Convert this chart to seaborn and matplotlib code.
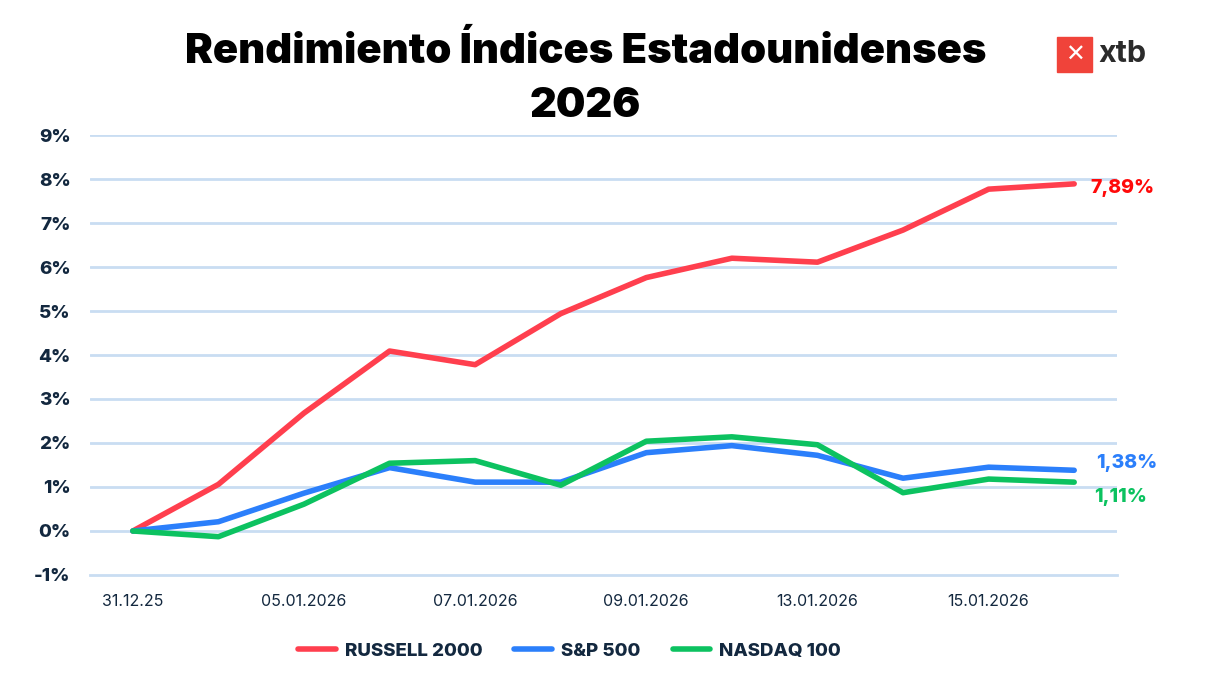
import numpy as np
import pandas as pd
import matplotlib.pyplot as plt
import matplotlib.patches as mpatches
import seaborn as sns

# Data (% return since 31.12.25)
dates = ["31.12.25", "02.01.2026", "05.01.2026", "06.01.2026", "07.01.2026",
         "08.01.2026", "09.01.2026", "12.01.2026", "13.01.2026", "14.01.2026",
         "15.01.2026", "16.01.2026"]
russell = [0.0, 1.06, 2.68, 4.09, 3.78, 4.94, 5.76, 6.20, 6.11, 6.84, 7.77, 7.89]
sp500 = [0.0, 0.21, 0.86, 1.44, 1.11, 1.11, 1.78, 1.94, 1.72, 1.20, 1.45, 1.38]
nasdaq = [0.0, -0.13, 0.61, 1.54, 1.60, 1.04, 2.04, 2.14, 1.96, 0.87, 1.18, 1.11]
series_names = ["RUSSELL 2000", "S&P 500", "NASDAQ 100"]
colors = ["#ff3f4e", "#2b7ffb", "#0cc260"]
label_colors = ["#ff0a0a", "#2b7ffb", "#0cc260"]
yticks = list(range(-1, 10))

df = pd.DataFrame({"idx": np.arange(len(dates)), "date": dates,
                   series_names[0]: russell, series_names[1]: sp500,
                   series_names[2]: nasdaq})
long_df = df.melt(id_vars=["idx", "date"], var_name="indice", value_name="ret")

sns.set_style("white")
plt.rcParams["font.family"] = ["Inter", "DejaVu Sans"]

navy = "#13283f"
grid_c = "#c9ddf2"

fig = plt.figure(figsize=(12.12, 6.9), dpi=100)
ax = fig.add_axes([0.0743, 0.1667, 0.8473, 0.6376])

for y in yticks[1:]:
    ax.axhline(y, color=grid_c, lw=2, zorder=0)

sns.lineplot(data=long_df, x="idx", y="ret", hue="indice", hue_order=series_names,
             palette=colors, linewidth=4, ax=ax, legend=False, zorder=3,
             solid_capstyle="round", solid_joinstyle="round")

ax.set_xlim(-0.5, len(dates) - 0.5)
ax.set_ylim(-1, 9)
ax.set_yticks(yticks)
ax.set_yticklabels([f"{v}%" for v in yticks], fontsize=13.5, fontweight="heavy", color=navy)
ax.set_xticks(np.arange(0, len(dates), 2))
ax.set_xticklabels(dates[::2], fontsize=11.5, color=navy)
ax.set_xticks(np.arange(-0.5, len(dates), 2), minor=True)
ax.tick_params(axis="y", length=0, pad=14)
ax.tick_params(axis="x", which="major", length=0, pad=14)
ax.tick_params(axis="x", which="minor", length=6, width=2, color=grid_c, direction="out")
ax.set_xlabel("")
ax.set_ylabel("")
for s in ["top", "right", "left"]:
    ax.spines[s].set_visible(False)
ax.spines["bottom"].set_color(grid_c)
ax.spines["bottom"].set_linewidth(2)

# end labels
last = len(dates) - 1
offsets = [(12, -3), (16, 5), (14, -11)]
for vals, col, off in zip([russell, sp500, nasdaq], label_colors, offsets):
    ax.annotate(f"{vals[-1]:.2f}%".replace(".", ","), xy=(last, vals[-1]),
                xytext=off, textcoords="offset points", ha="left", va="center",
                fontsize=14, fontweight="heavy", color=col, annotation_clip=False)

# legend
handles = [plt.Line2D([], [], color=c, lw=4, solid_capstyle="round") for c in colors]
leg = fig.legend(handles, series_names, loc="center", bbox_to_anchor=(0.47, 0.056),
                 ncol=3, frameon=False, handlelength=2.0, handletextpad=0.5,
                 columnspacing=1.7, prop={"size": 13.5, "weight": "heavy"})
for t in leg.get_texts():
    t.set_color(navy)

# title
fig.text(0.483, 0.926, "Rendimiento Índices Estadounidenses", ha="center", va="center",
         fontsize=30, fontweight="black", color="black")
fig.text(0.483, 0.846, "2026", ha="center", va="center",
         fontsize=30, fontweight="black", color="black")

# xtb logo
fig.patches.append(mpatches.Rectangle((1057 / 1212, 1 - 72 / 690), 35 / 1212, 35 / 690,
                                      transform=fig.transFigure, color="#f0433a"))
fig.text(1074.5 / 1212, 1 - 54.5 / 690, "✕", ha="center", va="center", fontsize=17,
         fontweight="bold", color="white", family="DejaVu Sans")
fig.text(1098 / 1212, 1 - 54 / 690, "xtb", ha="left", va="center", fontsize=22,
         fontweight="bold", color="#2b2b2b")

fig.savefig("out.png", dpi=100)
